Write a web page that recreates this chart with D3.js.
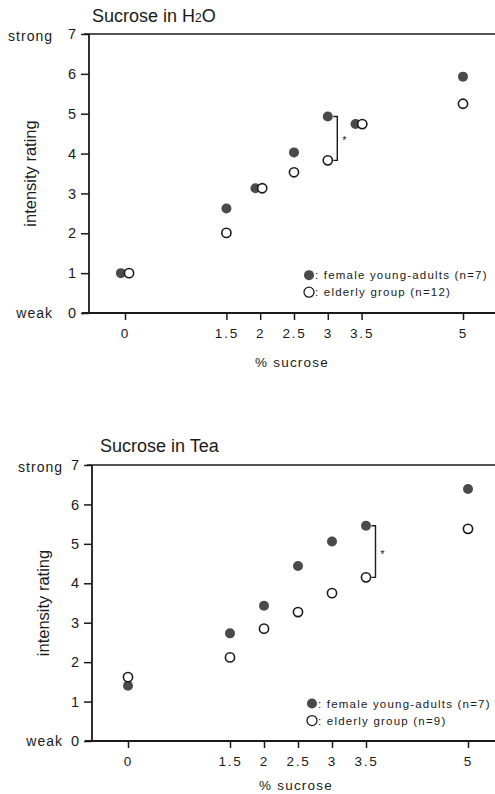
<!DOCTYPE html>
<html>
<head>
<meta charset="utf-8">
<script src="https://cdn.jsdelivr.net/npm/d3@7"></script>
<style>
  body { margin: 0; background: #fff; }
  svg text { font-family: "Liberation Sans", Arial, sans-serif; fill: #1a1a1a; }
</style>
</head>
<body>
<div id="canvas"></div>
<script>
// data
const xTicks = [0, 1.5, 2, 2.5, 3, 3.5, 5];
const yTicks = [0, 1, 2, 3, 4, 5, 6, 7];

// panel 1: sucrose in water (points slightly jittered where they overlap)
const waterYoungX = [-0.06, 1.5, 1.93, 2.5, 3, 3.41, 5];
const waterYoung = [1.0, 2.62, 3.13, 4.03, 4.93, 4.74, 5.93];
const waterElderlyX = [0.06, 1.5, 2.03, 2.5, 3, 3.51, 5];
const waterElderly = [1.0, 2.01, 3.13, 3.53, 3.83, 4.74, 5.25];

// panel 2: sucrose in tea
const teaYoungX = [0, 1.5, 2, 2.5, 3, 3.5, 5];
const teaYoung = [1.40, 2.73, 3.43, 4.44, 5.06, 5.46, 6.39];
const teaElderlyX = [0, 1.5, 2, 2.5, 3, 3.5, 5];
const teaElderly = [1.62, 2.12, 2.85, 3.27, 3.75, 4.15, 5.38];

const width = 495, height = 794;

const svg = d3.select("#canvas")
  .append("svg")
  .attr("width", width)
  .attr("height", height);

const panels = [
  {
    title: ["Sucrose in H", "2", "O"],
    youngX: waterYoungX, young: waterYoung,
    elderlyX: waterElderlyX, elderly: waterElderly,
    sigAt: 4, elderlyN: 12,
    left: 89, top: 34, bottom: 313, x0: 125, x5: 463,
    titleX: 92, titleY: 22, sideX: 53, labelX: 36, unitDy: 54
  },
  {
    title: ["Sucrose in Tea"],
    youngX: teaYoungX, young: teaYoung,
    elderlyX: teaElderlyX, elderly: teaElderly,
    sigAt: 5, elderlyN: 9,
    left: 92, top: 465, bottom: 741, x0: 128, x5: 468,
    titleX: 100, titleY: 452, sideX: 63, labelX: 49, unitDy: 49
  }
];

panels.forEach(p => {
  const g = svg.append("g");

  const x = d3.scaleLinear().domain([0, 5]).range([p.x0, p.x5]);
  const y = d3.scaleLinear().domain([0, 7]).range([p.bottom, p.top]);

  // title
  const t = g.append("text")
    .attr("x", p.titleX)
    .attr("y", p.titleY)
    .attr("font-size", 18);
  t.append("tspan").text(p.title[0]);
  if (p.title.length > 1) {
    t.append("tspan").attr("font-size", 12).text(p.title[1]);
    t.append("tspan").text(p.title[2]);
  }

  // y axis
  const yAxis = g.append("g")
    .attr("transform", "translate(" + p.left + ",0)")
    .call(d3.axisLeft(y).tickValues(yTicks).tickSize(8).tickPadding(5)
      .tickFormat(d3.format("d")));
  yAxis.select(".domain").remove();
  yAxis.selectAll(".tick line").attr("stroke", "#1a1a1a").attr("stroke-width", 1.5);
  yAxis.selectAll(".tick text")
    .attr("font-size", 14.5)
    .attr("font-family", "Liberation Sans, Arial, sans-serif")
    .attr("fill", "#1a1a1a");

  g.append("text").attr("x", p.sideX).attr("y", y(7) + 7)
    .attr("text-anchor", "end").attr("font-size", 14).attr("letter-spacing", 1)
    .text("strong");
  g.append("text").attr("x", p.sideX).attr("y", y(0) + 5)
    .attr("text-anchor", "end").attr("font-size", 14).attr("letter-spacing", 1)
    .text("weak");

  g.append("line")
    .attr("x1", p.left).attr("x2", p.left)
    .attr("y1", p.top).attr("y2", p.bottom)
    .attr("stroke", "#1a1a1a").attr("stroke-width", 1.8);

  // top frame
  g.append("line")
    .attr("x1", p.left - 5).attr("x2", width)
    .attr("y1", p.top).attr("y2", p.top)
    .attr("stroke", "#1a1a1a").attr("stroke-width", 1.6);

  // x axis
  const xAxis = g.append("g")
    .attr("transform", "translate(0," + p.bottom + ")")
    .call(d3.axisBottom(x).tickValues(xTicks).tickSize(7).tickPadding(8.5)
      .tickFormat(d => String(d)));
  xAxis.select(".domain").remove();
  xAxis.selectAll(".tick line").attr("stroke", "#1a1a1a").attr("stroke-width", 1.5);
  xAxis.selectAll(".tick text")
    .attr("font-size", 13.5)
    .attr("letter-spacing", 1.8)
    .attr("font-family", "Liberation Sans, Arial, sans-serif")
    .attr("fill", "#1a1a1a");

  g.append("line")
    .attr("x1", p.left - 7).attr("x2", width)
    .attr("y1", p.bottom).attr("y2", p.bottom)
    .attr("stroke", "#1a1a1a").attr("stroke-width", 1.8);

  g.append("text")
    .attr("x", x(2.5) - 2)
    .attr("y", p.bottom + p.unitDy)
    .attr("text-anchor", "middle")
    .attr("font-size", 13.5)
    .attr("letter-spacing", 1.2)
    .text("% sucrose");

  // y label
  g.append("text")
    .attr("transform", "translate(" + p.labelX + "," + ((p.top + p.bottom) / 2) + ") rotate(-90)")
    .attr("text-anchor", "middle")
    .attr("font-family", "DejaVu Sans, sans-serif")
    .attr("font-size", 16.5)
    .text("intensity rating");

  // points
  g.selectAll(".young")
    .data(p.young)
    .join("circle")
    .attr("class", "young")
    .attr("cx", (d, i) => x(p.youngX[i]))
    .attr("cy", d => y(d))
    .attr("r", 5)
    .attr("fill", "#4a4a4a");

  g.selectAll(".elderly")
    .data(p.elderly)
    .join("circle")
    .attr("class", "elderly")
    .attr("cx", (d, i) => x(p.elderlyX[i]))
    .attr("cy", d => y(d))
    .attr("r", 4.6)
    .attr("fill", "white")
    .attr("stroke", "#1a1a1a")
    .attr("stroke-width", 1.6);

  // significance bracket
  const k = p.sigAt;
  const bx = x(p.youngX[k]) + 9.5;
  const yTop = y(p.young[k]), yBot = y(p.elderly[k]);
  g.append("path")
    .attr("d", d3.line()([[bx - 4, yTop], [bx, yTop], [bx, yBot], [bx - 4, yBot]]))
    .attr("fill", "none")
    .attr("stroke", "#1a1a1a")
    .attr("stroke-width", 1.4);
  g.append("text")
    .attr("x", bx + 7)
    .attr("y", (yTop + yBot) / 2 + 6)
    .attr("text-anchor", "middle")
    .attr("font-size", 11)
    .text("*");

  // legend
  const lx = p.left + 220, ly = y(1);
  g.append("circle").attr("cx", lx).attr("cy", ly + 2).attr("r", 5).attr("fill", "#4a4a4a");
  g.append("text").attr("x", lx + 6).attr("y", ly + 6)
    .attr("font-size", 11.5).attr("letter-spacing", 1.2)
    .text(": female young-adults (n=7)");
  g.append("circle").attr("cx", lx).attr("cy", ly + 19).attr("r", 5)
    .attr("fill", "white").attr("stroke", "#1a1a1a").attr("stroke-width", 1.3);
  g.append("text").attr("x", lx + 6).attr("y", ly + 23)
    .attr("font-size", 11.5).attr("letter-spacing", 1.2)
    .text(": elderly group (n=" + p.elderlyN + ")");
});
</script>
</body>
</html>
